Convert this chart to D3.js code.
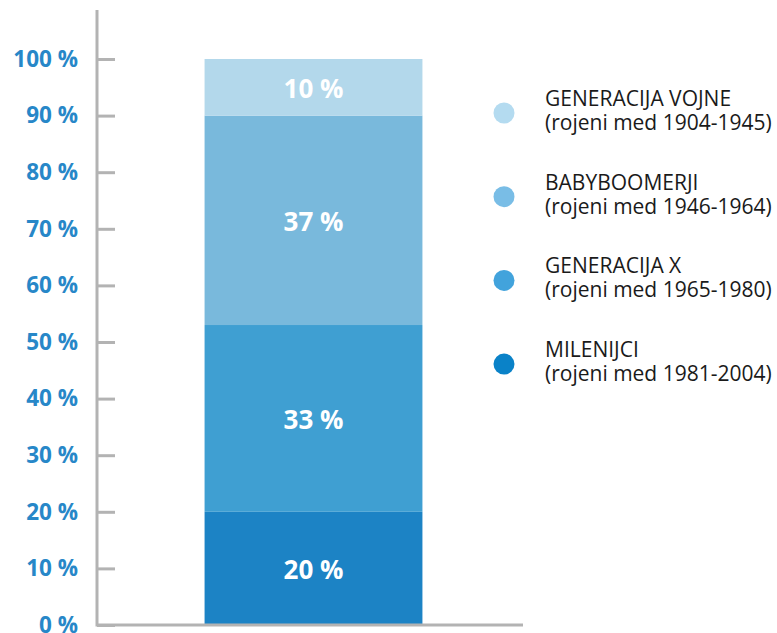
<!DOCTYPE html>
<html>
<head>
<meta charset="utf-8">
<script src="https://cdn.jsdelivr.net/npm/d3@7"></script>
<style>
  body { margin: 0; background: #fff; }
  svg { display: block; font-family: "Open Sans", sans-serif; }
</style>
</head>
<body>
<div id="chart"></div>
<script>
// data, bottom segment first
var generations = ["MILENIJCI", "GENERACIJA X", "BABYBOOMERJI", "GENERACIJA VOJNE"];
var years = ["1981-2004", "1965-1980", "1946-1964", "1904-1945"];
var shares = [20, 33, 37, 10];
var barColors = ["#1c83c5", "#3f9fd2", "#79b9dc", "#b3d8eb"];
var dotColors = ["#0a82c8", "#42a3dc", "#79bde6", "#b4dbf0"];
var yTicks = [0, 10, 20, 30, 40, 50, 60, 70, 80, 90, 100];

var svgWidth = 777;
var svgHeight = 633;
var margin = { top: 59, left: 97 };
var plotHeight = 625 - margin.top;

var svg = d3.select("#chart")
  .append("svg")
  .attr("width", svgWidth)
  .attr("height", svgHeight);

var chartGroup = svg.append("g")
  .attr("transform", `translate(${margin.left}, ${margin.top})`);

var yScale = d3.scaleLinear()
  .domain([0, 100])
  .range([plotHeight, 0]);

var xScale = d3.scaleBand()
  .domain(["all"])
  .range([3, 430])
  .paddingInner(0)
  .paddingOuter(0.48);

// stacked segments
var row = {};
generations.forEach(function(g, i) { row[g] = shares[i]; });
var series = d3.stack().keys(generations)([row]);

chartGroup.selectAll("rect.seg")
  .data(series)
  .enter()
  .append("rect")
  .attr("class", "seg")
  .attr("x", xScale("all"))
  .attr("width", xScale.bandwidth())
  .attr("y", d => yScale(d[0][1]))
  .attr("height", d => yScale(d[0][0]) - yScale(d[0][1]))
  .style("fill", (d, i) => barColors[i]);

chartGroup.selectAll("text.seglabel")
  .data(series)
  .enter()
  .append("text")
  .attr("class", "seglabel")
  .attr("x", xScale("all") + xScale.bandwidth() / 2)
  .attr("y", d => yScale((d[0][0] + d[0][1]) / 2))
  .attr("dy", "0.4em")
  .attr("text-anchor", "middle")
  .attr("font-size", 26)
  .attr("font-weight", 700)
  .style("fill", "#fff")
  .text((d, i) => shares[i] + " %");

// axis
var leftAxis = d3.axisLeft(yScale)
  .tickValues(yTicks)
  .tickSizeInner(-18)
  .tickSizeOuter(0)
  .tickPadding(19)
  .tickFormat(d => d + " %");

var axisG = chartGroup.append("g").call(leftAxis);
axisG.select(".domain").remove();
axisG.selectAll(".tick line")
  .attr("stroke", "#b3b3b3")
  .attr("stroke-width", 3);
axisG.selectAll(".tick text")
  .attr("font-family", "Open Sans, sans-serif")
  .attr("font-size", 22.5)
  .attr("font-weight", 700)
  .style("fill", "#2787c8");

chartGroup.append("line")
  .attr("x1", 0).attr("x2", 0)
  .attr("y1", 10 - margin.top).attr("y2", yScale(0) + 1.5)
  .attr("stroke", "#b3b3b3")
  .attr("stroke-width", 3);

chartGroup.append("line")
  .attr("x1", 0).attr("x2", 426)
  .attr("y1", yScale(0)).attr("y2", yScale(0))
  .attr("stroke", "#b3b3b3")
  .attr("stroke-width", 3);

// legend, top item first
var legend = svg.append("g").attr("transform", "translate(504, 113)");
var legendItems = legend.selectAll("g.item")
  .data(d3.range(generations.length).reverse())
  .enter()
  .append("g")
  .attr("class", "item")
  .attr("transform", (d, i) => `translate(0, ${i * 83.7})`);

legendItems.append("circle")
  .attr("r", 10.5)
  .style("fill", d => dotColors[d]);

legendItems.append("text")
  .attr("x", 41)
  .attr("y", -7)
  .attr("font-size", 21)
  .style("fill", "#1a1a1a")
  .text(d => generations[d]);

legendItems.append("text")
  .attr("x", 41)
  .attr("y", 17)
  .attr("font-size", 21)
  .style("fill", "#1a1a1a")
  .text(d => "(rojeni med " + years[d] + ")");
</script>
</body>
</html>
